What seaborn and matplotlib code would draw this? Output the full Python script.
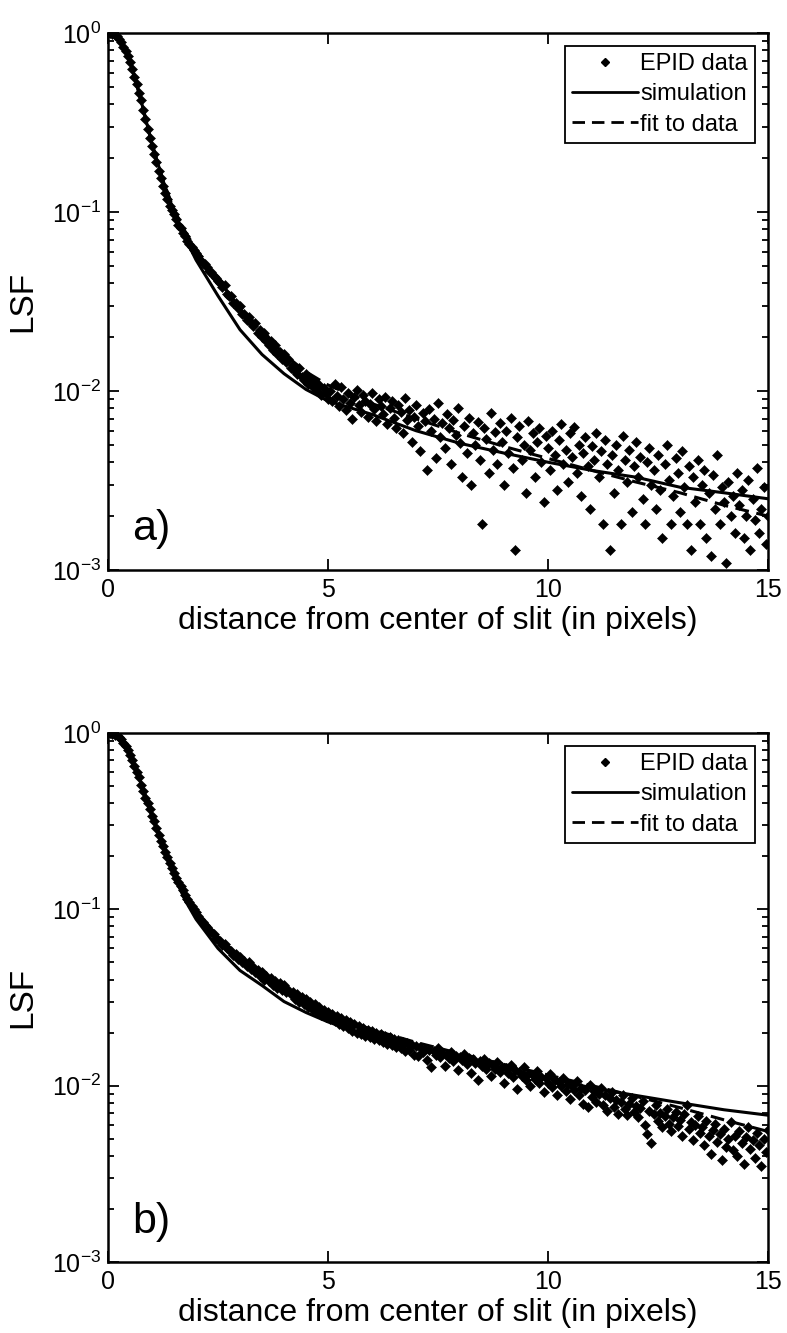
import matplotlib
matplotlib.use("Agg")
import matplotlib.pyplot as plt
from matplotlib.lines import Line2D
import seaborn as sns
import pandas as pd

# ---------------- data ----------------
distance_px = [
    0.00, 0.05, 0.10, 0.15, 0.20, 0.25, 0.30, 0.35, 0.40, 0.45, 0.50, 0.55, 0.60, 0.65, 0.70, 0.75, 0.80, 0.85, 0.90, 0.95,
    1.00, 1.05, 1.10, 1.15, 1.20, 1.25, 1.30, 1.35, 1.40, 1.45, 1.50, 1.55, 1.60, 1.65, 1.70, 1.75, 1.80, 1.85, 1.90, 1.95,
    2.00, 2.05, 2.10, 2.15, 2.20, 2.25, 2.30, 2.35, 2.40, 2.45, 2.50, 2.55, 2.60, 2.65, 2.70, 2.75, 2.80, 2.85, 2.90, 2.95,
    3.00, 3.05, 3.10, 3.15, 3.20, 3.25, 3.30, 3.35, 3.40, 3.45, 3.50, 3.55, 3.60, 3.65, 3.70, 3.75, 3.80, 3.85, 3.90, 3.95,
    4.00, 4.05, 4.10, 4.15, 4.20, 4.25, 4.30, 4.35, 4.40, 4.45, 4.50, 4.55, 4.60, 4.65, 4.70, 4.75, 4.80, 4.85, 4.90, 4.95,
    5.00, 5.05, 5.10, 5.15, 5.20, 5.25, 5.30, 5.35, 5.40, 5.45, 5.50, 5.55, 5.60, 5.65, 5.70, 5.75, 5.80, 5.85, 5.90, 5.95,
    6.00, 6.05, 6.10, 6.15, 6.20, 6.25, 6.30, 6.35, 6.40, 6.45, 6.50, 6.55, 6.60, 6.65, 6.70, 6.75, 6.80, 6.85, 6.90, 6.95,
    7.00, 7.05, 7.10, 7.15, 7.20, 7.25, 7.30, 7.35, 7.40, 7.45, 7.50, 7.55, 7.60, 7.65, 7.70, 7.75, 7.80, 7.85, 7.90, 7.95,
    8.00, 8.05, 8.10, 8.15, 8.20, 8.25, 8.30, 8.35, 8.40, 8.45, 8.50, 8.55, 8.60, 8.65, 8.70, 8.75, 8.80, 8.85, 8.90, 8.95,
    9.00, 9.05, 9.10, 9.15, 9.20, 9.25, 9.30, 9.35, 9.40, 9.45, 9.50, 9.55, 9.60, 9.65, 9.70, 9.75, 9.80, 9.85, 9.90, 9.95,
    10.00, 10.05, 10.10, 10.15, 10.20, 10.25, 10.30, 10.35, 10.40, 10.45, 10.50, 10.55, 10.60, 10.65, 10.70, 10.75, 10.80, 10.85, 10.90, 10.95,
    11.00, 11.05, 11.10, 11.15, 11.20, 11.25, 11.30, 11.35, 11.40, 11.45, 11.50, 11.55, 11.60, 11.65, 11.70, 11.75, 11.80, 11.85, 11.90, 11.95,
    12.00, 12.05, 12.10, 12.15, 12.20, 12.25, 12.30, 12.35, 12.40, 12.45, 12.50, 12.55, 12.60, 12.65, 12.70, 12.75, 12.80, 12.85, 12.90, 12.95,
    13.00, 13.05, 13.10, 13.15, 13.20, 13.25, 13.30, 13.35, 13.40, 13.45, 13.50, 13.55, 13.60, 13.65, 13.70, 13.75, 13.80, 13.85, 13.90, 13.95,
    14.00, 14.05, 14.10, 14.15, 14.20, 14.25, 14.30, 14.35, 14.40, 14.45, 14.50, 14.55, 14.60, 14.65, 14.70, 14.75, 14.80, 14.85, 14.90, 14.95,
    15.00,
]

epid_a = [
    1.00, 1.00, 0.99, 0.98, 0.96, 0.93, 0.89, 0.84, 0.79, 0.74, 0.69, 0.63, 0.57, 0.52, 0.46, 0.42, 0.37, 0.33, 0.29, 0.26,
    0.235, 0.21, 0.19, 0.17, 0.155, 0.14, 0.128, 0.118, 0.108, 0.102, 0.097, 0.091, 0.085, 0.081, 0.076, 0.073, 0.069, 0.066, 0.064, 0.061,
    0.059, 0.057, 0.054, 0.052, 0.051, 0.049, 0.047, 0.046, 0.044, 0.043, 0.041, 0.040, 0.038, 0.039, 0.035, 0.034, 0.034, 0.031, 0.031, 0.029,
    0.030, 0.027, 0.027, 0.025, 0.026, 0.024, 0.023, 0.024, 0.021, 0.022, 0.020, 0.021, 0.019, 0.018, 0.019, 0.017, 0.018, 0.016, 0.0165, 0.015,
    0.016, 0.0145, 0.015, 0.0135, 0.014, 0.013, 0.0125, 0.0135, 0.012, 0.0115, 0.0125, 0.011, 0.0118, 0.0105, 0.0112, 0.0100, 0.0108, 0.0095, 0.0104, 0.0098,
    0.0090, 0.0100, 0.0088, 0.0110, 0.0094, 0.0082, 0.0105, 0.0090, 0.0078, 0.0098, 0.0086, 0.0070, 0.0092, 0.0101, 0.0083, 0.0076, 0.0095, 0.0088, 0.0072, 0.0085,
    0.0097, 0.0079, 0.0068, 0.0090, 0.0082, 0.0074, 0.0093, 0.0065, 0.0080, 0.0088, 0.0071, 0.0062, 0.0084, 0.0076, 0.0058, 0.0091, 0.0069, 0.0078, 0.0052, 0.0072,
    0.0083, 0.0064, 0.0046, 0.0075, 0.0068, 0.0036, 0.0079, 0.0060, 0.0070, 0.0042, 0.0086, 0.0055, 0.0066, 0.0048, 0.0074, 0.0062, 0.0039, 0.0069, 0.0057, 0.0080,
    0.0051, 0.0033, 0.0064, 0.0045, 0.0071, 0.0030, 0.0058, 0.0050, 0.0067, 0.0041, 0.0018, 0.0062, 0.0054, 0.0035, 0.0075, 0.0047, 0.0059, 0.0039, 0.0066, 0.0052,
    0.0030, 0.0060, 0.0045, 0.0071, 0.0037, 0.0013, 0.0055, 0.0064, 0.0041, 0.0050, 0.0027, 0.0068, 0.0047, 0.0058, 0.0033, 0.0052, 0.0062, 0.0040, 0.0024, 0.0056,
    0.0048, 0.0036, 0.0060, 0.0044, 0.0028, 0.0053, 0.0065, 0.0039, 0.0047, 0.0031, 0.0058, 0.0043, 0.0063, 0.0035, 0.0050, 0.0026, 0.0045, 0.0055, 0.0038, 0.0022,
    0.0049, 0.0041, 0.0058, 0.0033, 0.0046, 0.0018, 0.0053, 0.0039, 0.0013, 0.0044, 0.0027, 0.0050, 0.0036, 0.0018, 0.0056, 0.0041, 0.0031, 0.0047, 0.0021, 0.0038,
    0.0052, 0.0033, 0.0043, 0.0025, 0.0018, 0.0040, 0.0048, 0.0030, 0.0036, 0.0022, 0.0044, 0.0028, 0.0015, 0.0039, 0.0050, 0.0032, 0.0018, 0.0026, 0.0042, 0.0035,
    0.0021, 0.0046, 0.0029, 0.0018, 0.0038, 0.0013, 0.0033, 0.0024, 0.0041, 0.0018, 0.0030, 0.0036, 0.0015, 0.0027, 0.0012, 0.0034, 0.0022, 0.0044, 0.0018, 0.0029,
    0.0024, 0.0011, 0.0031, 0.0020, 0.0026, 0.0016, 0.0035, 0.0023, 0.0028, 0.0015, 0.0020, 0.0032, 0.0013, 0.0025, 0.0019, 0.0037, 0.0016, 0.0022, 0.0029, 0.0014,
    0.0020,
]

epid_b = [
    1.00, 1.00, 0.99, 0.98, 0.97, 0.95, 0.92, 0.88, 0.84, 0.80, 0.75, 0.70, 0.65, 0.60, 0.56, 0.51, 0.47, 0.43, 0.40, 0.37,
    0.34, 0.315, 0.29, 0.265, 0.245, 0.228, 0.212, 0.197, 0.184, 0.172, 0.161, 0.151, 0.143, 0.135, 0.128, 0.121, 0.115, 0.110, 0.105, 0.100,
    0.096, 0.092, 0.088, 0.085, 0.082, 0.079, 0.076, 0.074, 0.072, 0.069, 0.067, 0.066, 0.063, 0.064, 0.060, 0.059, 0.058, 0.055, 0.056, 0.052,
    0.054, 0.050, 0.051, 0.048, 0.050, 0.046, 0.047, 0.044, 0.045, 0.042, 0.044, 0.040, 0.042, 0.039, 0.041, 0.037, 0.039, 0.036, 0.038, 0.035,
    0.037, 0.034, 0.035, 0.033, 0.034, 0.031, 0.033, 0.030, 0.032, 0.029, 0.031, 0.028, 0.030, 0.027, 0.029, 0.026, 0.028, 0.025, 0.027, 0.0245,
    0.026, 0.0238, 0.0255, 0.0232, 0.0248, 0.0225, 0.0242, 0.0218, 0.0236, 0.0212, 0.0230, 0.0205, 0.0224, 0.0200, 0.0218, 0.0196, 0.0213, 0.0192, 0.0208, 0.0188,
    0.0204, 0.0185, 0.0200, 0.0181, 0.0196, 0.0178, 0.0192, 0.0172, 0.0188, 0.0170, 0.0185, 0.0166, 0.0181, 0.0163, 0.0178, 0.0158, 0.0174, 0.0160, 0.0171, 0.0150,
    0.0168, 0.0148, 0.0165, 0.0155, 0.0162, 0.0140, 0.0160, 0.0128, 0.0157, 0.0150, 0.0163, 0.0146, 0.0154, 0.0130, 0.0151, 0.0143, 0.0156, 0.0138, 0.0148, 0.0122,
    0.0146, 0.0139, 0.0151, 0.0132, 0.0143, 0.0118, 0.0141, 0.0135, 0.0108, 0.0138, 0.0129, 0.0142, 0.0124, 0.0134, 0.0113, 0.0131, 0.0125, 0.0136, 0.0119, 0.0128,
    0.0104, 0.0126, 0.0118, 0.0131, 0.0112, 0.0122, 0.0096, 0.0120, 0.0114, 0.0127, 0.0108, 0.0117, 0.0100, 0.0115, 0.0109, 0.0121, 0.0103, 0.0112, 0.0092, 0.0110,
    0.0104, 0.0117, 0.0098, 0.0107, 0.0088, 0.0105, 0.0099, 0.0111, 0.0093, 0.0102, 0.0084, 0.0100, 0.0095, 0.0106, 0.0089, 0.0097, 0.0079, 0.0094, 0.0076, 0.0101,
    0.0086, 0.0093, 0.0081, 0.0090, 0.0097, 0.0078, 0.0088, 0.0072, 0.0085, 0.0092, 0.0076, 0.0083, 0.0069, 0.0081, 0.0088, 0.0074, 0.0068, 0.0079, 0.0085, 0.0071,
    0.0077, 0.0066, 0.0075, 0.0082, 0.0060, 0.0053, 0.0072, 0.0047, 0.0069, 0.0078, 0.0063, 0.0070, 0.0058, 0.0067, 0.0074, 0.0061, 0.0055, 0.0066, 0.0071, 0.0059,
    0.0064, 0.0052, 0.0069, 0.0078, 0.0057, 0.0062, 0.0049, 0.0060, 0.0067, 0.0054, 0.0058, 0.0046, 0.0063, 0.0052, 0.0041, 0.0056, 0.0061, 0.0048, 0.0053, 0.0038,
    0.0057, 0.0045, 0.0050, 0.0062, 0.0043, 0.0052, 0.0040, 0.0055, 0.0047, 0.0036, 0.0051, 0.0058, 0.0044, 0.0049, 0.0039, 0.0054, 0.0046, 0.0035, 0.0050, 0.0042,
    0.0056,
]

curve_x = [0.0, 0.25, 0.5, 0.75, 1.0, 1.25, 1.5, 1.75, 2.0, 2.5, 3.0, 3.5, 4.0, 4.5,
           5.0, 6.0, 7.0, 8.0, 9.0, 10.0, 11.0, 12.0, 13.0, 14.0, 15.0]
sim_a = [1.0, 0.93, 0.70, 0.42, 0.24, 0.15, 0.10, 0.072, 0.054, 0.034, 0.022, 0.016, 0.0125, 0.0102,
         0.0088, 0.0074, 0.0060, 0.0051, 0.0045, 0.0040, 0.0036, 0.0033, 0.0029, 0.0027, 0.0025]
fit_a = [1.0, 0.94, 0.71, 0.42, 0.24, 0.15, 0.103, 0.078, 0.062, 0.042, 0.029, 0.022, 0.016, 0.0128,
         0.0108, 0.0085, 0.0070, 0.0058, 0.0049, 0.0042, 0.0036, 0.0031, 0.0027, 0.0023, 0.0020]
sim_b = [1.0, 0.95, 0.76, 0.52, 0.34, 0.225, 0.155, 0.113, 0.088, 0.060, 0.045, 0.037, 0.030, 0.026,
         0.023, 0.0188, 0.0163, 0.0143, 0.0126, 0.0111, 0.0097, 0.0088, 0.0080, 0.0073, 0.0068]
fit_b = [1.0, 0.96, 0.76, 0.52, 0.34, 0.23, 0.16, 0.12, 0.094, 0.066, 0.051, 0.041, 0.034, 0.029,
         0.0255, 0.0208, 0.0176, 0.0152, 0.0132, 0.0115, 0.0100, 0.0087, 0.0075, 0.0064, 0.0055]

panel_tags = ["a)", "b)"]
legend_labels = ["EPID data", "simulation", "fit to data"]
x_ticks = [0, 5, 10, 15]
y_ticks = [1e-3, 1e-2, 1e-1, 1e0]
x_label = "distance from center of slit (in pixels)"
y_label = "LSF"

# ---------------- style ----------------
sns.set_style("ticks")
plt.rcParams["font.family"] = ["Liberation Sans", "DejaVu Sans"]
plt.rcParams["mathtext.fontset"] = "custom"
plt.rcParams["mathtext.rm"] = "Liberation Sans"
plt.rcParams["mathtext.it"] = "Liberation Sans"
for key in ["text.color", "axes.labelcolor", "xtick.color", "ytick.color", "axes.edgecolor"]:
    plt.rcParams[key] = "black"

W, H = 787, 1333
fig = plt.figure(figsize=(W / 100, H / 100), dpi=100)
fig.patch.set_facecolor("white")

boxes = [
    (108 / W, 1 - 570 / H, 660 / W, 537 / H),
    (108 / W, 1 - 1262 / H, 660 / W, 529 / H),
]

panels = [(epid_a, sim_a, fit_a), (epid_b, sim_b, fit_b)]
dash = (0, (4.5, 2.5))

for box, (epid, sim, fit), tag in zip(boxes, panels, panel_tags):
    ax = fig.add_axes(box)
    df = pd.DataFrame({"x": distance_px, "y": epid})
    cf = pd.DataFrame({"x": curve_x, "sim": sim, "fit": fit})

    sns.scatterplot(data=df, x="x", y="y", ax=ax, marker="D", s=26,
                    color="black", edgecolor="black", linewidth=0.4, zorder=3)
    sns.lineplot(data=cf, x="x", y="sim", ax=ax, color="black", lw=2.2,
                 estimator=None, sort=False, zorder=4)
    sns.lineplot(data=cf, x="x", y="fit", ax=ax, color="black", lw=2.2,
                 linestyle=dash, estimator=None, sort=False, zorder=4)

    ax.set_yscale("log")
    ax.set_xlim(0, 15)
    ax.set_ylim(1e-3, 1)
    ax.set_xticks(x_ticks)
    ax.set_xticklabels([str(t) for t in x_ticks])
    ax.set_yticks(y_ticks)
    ax.minorticks_off()
    ax.yaxis.set_minor_locator(matplotlib.ticker.LogLocator(base=10, subs=range(2, 10)))
    ax.yaxis.set_minor_formatter(matplotlib.ticker.NullFormatter())

    ax.tick_params(which="both", direction="in", top=True, right=True,
                   labelsize=18, width=1.3, colors="black")
    ax.tick_params(which="major", length=8)
    ax.tick_params(which="minor", length=4)
    ax.tick_params(axis="x", pad=6)
    ax.tick_params(axis="y", pad=5)
    for s in ax.spines.values():
        s.set_linewidth(1.8)
        s.set_color("black")

    ax.set_xlabel(x_label, fontsize=23, labelpad=3)
    ax.set_ylabel(y_label, fontsize=24, labelpad=10)

    ax.text(0.036, 0.055, tag, transform=ax.transAxes, fontsize=31,
            ha="left", va="baseline", color="black")

    handles = [
        Line2D([], [], marker="D", markersize=4.5, linestyle="none", color="black"),
        Line2D([], [], color="black", lw=2.0),
        Line2D([], [], color="black", lw=2.0, linestyle=dash),
    ]
    leg = ax.legend(handles, legend_labels, loc="upper right", fontsize=17,
                    frameon=True, fancybox=False, framealpha=1,
                    edgecolor="black", handlelength=2.8, handletextpad=0.1,
                    borderpad=0.3, labelspacing=0.35, borderaxespad=0.55)
    leg.get_frame().set_linewidth(1.3)

fig.savefig("out.png", dpi=100, facecolor="white")
